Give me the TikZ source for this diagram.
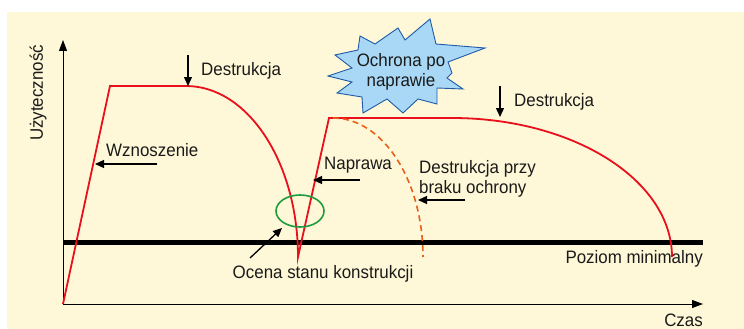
\documentclass[tikz,border=0pt]{standalone}
\usepackage{fontspec}
\setmainfont{Liberation Sans}[FakeStretch=0.94]
\usetikzlibrary{arrows.meta}
\definecolor{cream}{HTML}{FEF8D8}
\definecolor{curvered}{HTML}{E8101C}
\definecolor{dashorange}{HTML}{E8601C}
\definecolor{evalgreen}{HTML}{1E9B3C}
\definecolor{starfill}{HTML}{A8D8F5}
\definecolor{starline}{HTML}{1E5AA8}
\definecolor{textcol}{HTML}{1A1A1A}
\begin{document}
\begin{tikzpicture}[x=1pt,y=-1pt,
  lbl/.style={font=\fontsize{18}{20}\selectfont, text=textcol, inner sep=0pt},
  pointer/.style={-{Triangle[length=9pt,width=8pt]}, line width=1.3pt, black},
  axisline/.style={-{Triangle[length=11pt,width=8pt]}, line width=0.9pt, black},
  curve/.style={curvered, line width=1.8pt, line join=miter},
  dashcurve/.style={dashorange, line width=1.6pt, dash pattern=on 6pt off 4pt},
  minline/.style={black, line width=5pt},
  evalring/.style={evalgreen, line width=1.6pt},
  starshape/.style={fill=starfill, draw=starline, line width=0.9pt, line join=miter}]
\useasboundingbox (0,0) rectangle (744,329);
\fill[white] (0,0) rectangle (744,329);
\fill[cream] (7,12) rectangle (744,329);

% axes
\coordinate (origin) at (63,304);
\coordinate (ytip) at (63,40);
\coordinate (xtip) at (703,304);
\draw[axisline] (origin) -- (ytip);
\draw[axisline] (origin) -- (xtip);

% minimum level
\coordinate (minL) at (63,242);
\coordinate (minR) at (703,242);
\draw[minline] (minL) -- (minR);

% main curves
\draw[curve] (origin) -- (110,86) -- (186,86)
  .. controls (247.9,86) and (298,162.6) .. (298,257)
  -- (329,118) -- (452,118)
  .. controls (573.5,118) and (672,180.2) .. (672,257);
\draw[dashcurve] (333,118) .. controls (382.7,118) and (423,180.2) .. (423,257);

% evaluation ring
\draw[evalring] (300,211) ellipse [x radius=24, y radius=16];

% starburst
\draw[starshape] (335,55) -- (358,50) -- (360,36) -- (375,44) -- (398,28) -- (405,40)
  -- (430,19) -- (436,44) -- (485,48) -- (448,62) -- (452,73) -- (447,78)
  -- (463,89) -- (437,88) -- (437,104) -- (418,99) -- (403,113) -- (387,99)
  -- (363,113) -- (362,97) -- (337,93) -- (352,82) -- (328,76) -- (352,68) -- cycle;
\node[lbl, align=center] (ochrona) at (401,72) {Ochrona po\\naprawie};

% labels
\node[lbl, rotate=90] (ylab) at (38,93) {Użyteczność};
\node[lbl, anchor=east] (xlab) at (703,320) {Czas};
\node[lbl, anchor=east] (minlab) at (703,259) {Poziom minimalny};
\node[lbl, anchor=west] (destr1) at (201,71) {Destrukcja};
\node[lbl, anchor=west] (destr2) at (514,102) {Destrukcja};
\node[lbl, anchor=west] (wzn) at (106,150) {Wznoszenie};
\node[lbl, anchor=west] (napr) at (324,165) {Naprawa};
\node[lbl, anchor=west, align=left] (brak) at (419,178.5) {Destrukcja przy\\braku ochrony};
\node[lbl] (ocena) at (323,274) {Ocena stanu konstrukcji};

% pointer arrows
\coordinate (d1s) at (188,55); \coordinate (d1e) at (188,86);
\coordinate (d2s) at (500,86); \coordinate (d2e) at (500,117);
\coordinate (ws) at (157,164); \coordinate (we) at (95,164);
\coordinate (ns) at (360,180); \coordinate (ne) at (313,180);
\coordinate (bs) at (465,200); \coordinate (be) at (418,200);
\coordinate (os) at (250,258); \coordinate (oe) at (282,228);
\draw[pointer] (d1s) -- (d1e);
\draw[pointer] (d2s) -- (d2e);
\draw[pointer] (ws) -- (we);
\draw[pointer] (ns) -- (ne);
\draw[pointer] (bs) -- (be);
\draw[pointer] (os) -- (oe);
\end{tikzpicture}
\end{document}
